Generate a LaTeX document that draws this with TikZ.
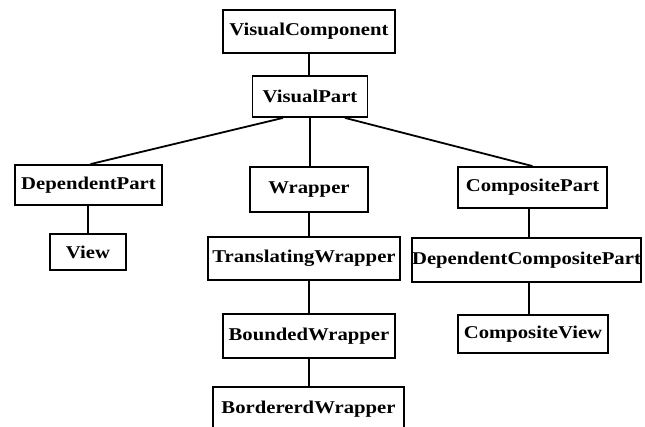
\documentclass[tikz,border=0pt]{standalone}
\usepackage{fontspec}
\setmainfont{Liberation Serif}[FakeStretch=1.15]
\usetikzlibrary{calc}
\tikzset{
  cls/.style={draw, line width=1.8pt, inner sep=0pt, align=center,
    font=\fontsize{18}{20}\selectfont\bfseries},
  link/.style={line width=1.8pt}
}
\begin{document}
\begin{tikzpicture}[x=1pt,y=-1pt]
  \useasboundingbox (0,0) rectangle (645,426);
  \clip (0,0) rectangle (645,426);
  % class boxes: centre, width, height
  \node[cls, minimum width=172, minimum height=43] (vc)   at (309,31.5)   {VisualComponent};
  \node[cls, minimum width=115, minimum height=41] (vp)   at (310,96.5)   {VisualPart};
  \node[cls, minimum width=147, minimum height=40] (dp)   at (88.5,185)   {DependentPart};
  \node[cls, minimum width=76,  minimum height=36] (view) at (88,252)     {View};
  \node[cls, minimum width=118, minimum height=45] (wr)   at (309,189.5)  {Wrapper};
  \node[cls, minimum width=192, minimum height=43] (tw)   at (304,258.5)  {TranslatingWrapper};
  \node[cls, minimum width=172, minimum height=44] (bw)   at (309,336)    {BoundedWrapper};
  \node[cls, minimum width=191, minimum height=44] (bdw)  at (308.5,409)  {BordererdWrapper};
  \node[cls, minimum width=149, minimum height=41] (cp)   at (532.5,187.5){CompositePart};
  \node[cls, minimum width=227, minimum height=44] (dcp)  at (526.5,260)  {DependentCompositePart};
  \node[cls, minimum width=150, minimum height=38] (cv)   at (533,334)    {CompositeView};

  % fan-out points under VisualPart
  \coordinate (vpl) at ($(vp.south)+(-27,0)$);
  \coordinate (vpr) at ($(vp.south)+(35,0)$);

  % inheritance links
  \draw[link] (vc.south) -- (vc.south |- vp.north);
  \draw[link] (vpl) -- ($(dp.north)+(2,0)$);
  \draw[link] (vp.south) -- (vp.south |- wr.north);
  \draw[link] (vpr) -- (cp.north);
  \draw[link] (dp.south -| view.north) -- (view.north);
  \draw[link] (wr.south) -- (wr.south |- tw.north);
  \draw[link] (tw.south -| wr.south) -- (wr.south |- bw.north);
  \draw[link] (bw.south) -- (bw.south |- bdw.north);
  \draw[link] (cp.south -| 529,0) -- (dcp.north -| 529,0);
  \draw[link] (dcp.south -| 529,0) -- (cv.north -| 529,0);
\end{tikzpicture}
\end{document}
